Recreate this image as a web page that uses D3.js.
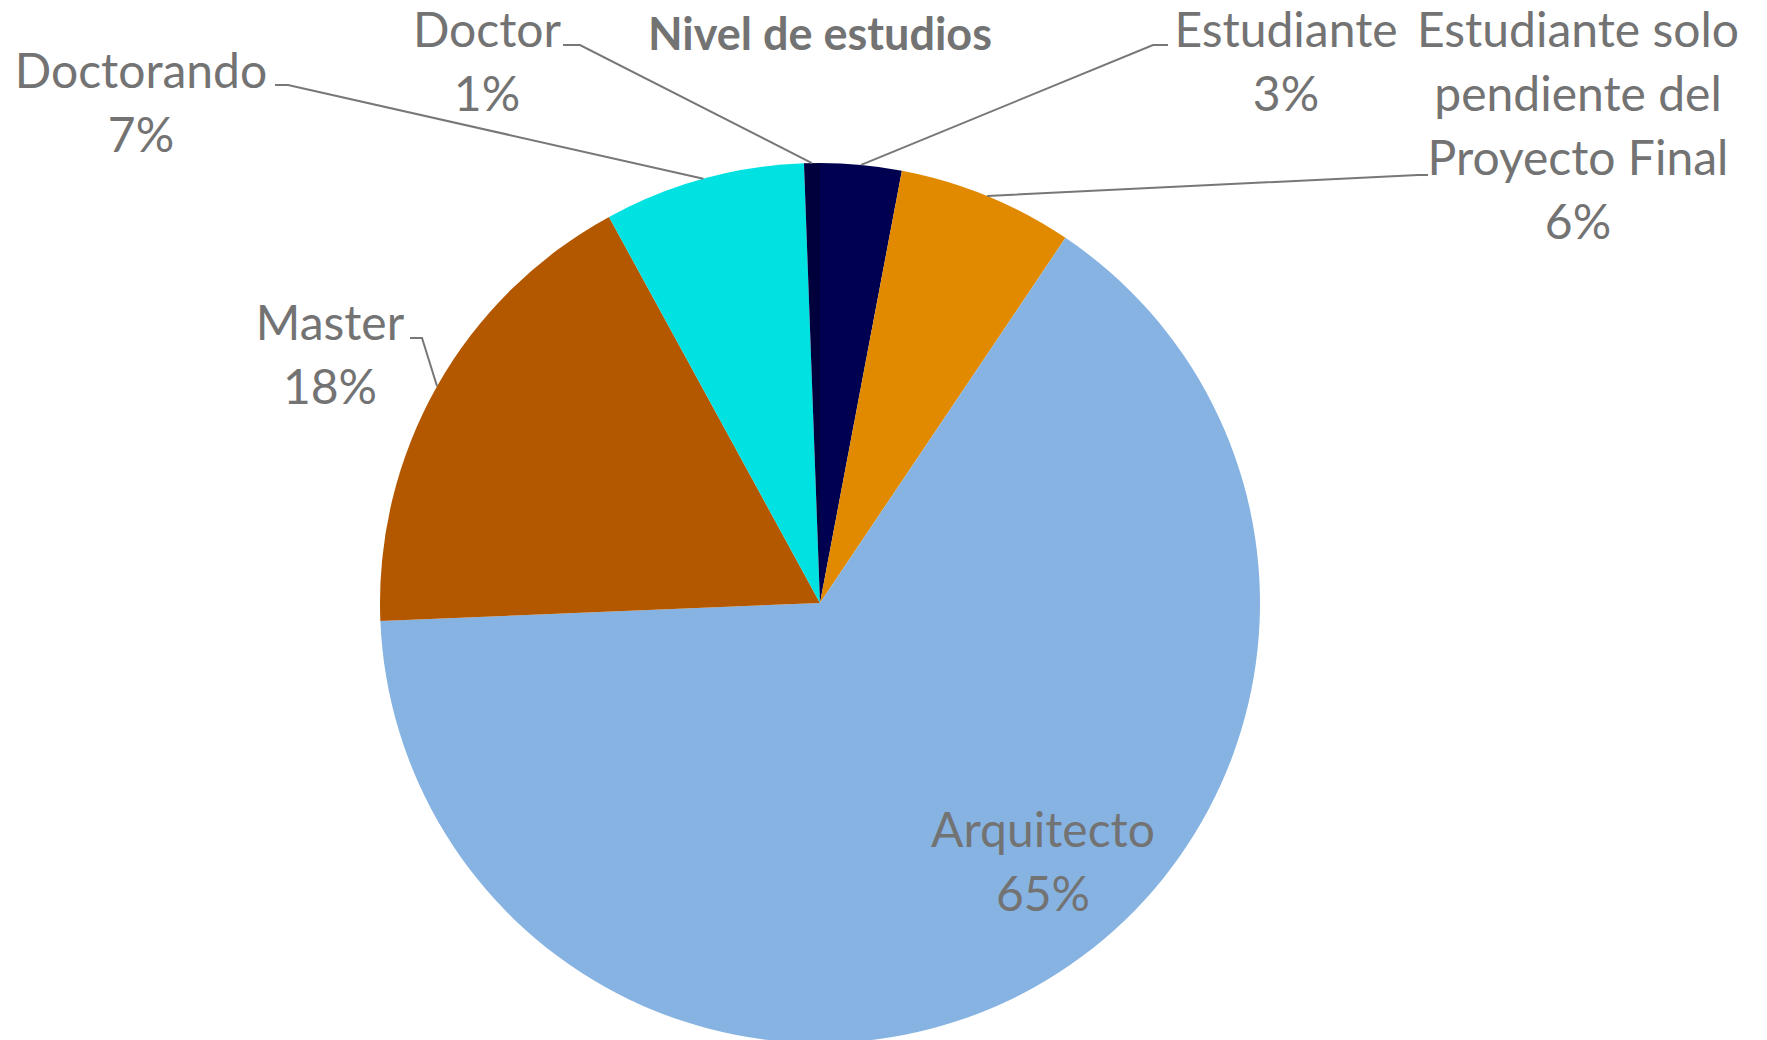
<!DOCTYPE html>
<html>
<head>
<meta charset="utf-8">
<script src="https://cdn.jsdelivr.net/npm/d3@7"></script>
<style>
  body { margin: 0; background: #fff; }
  text { font-family: Lato, "Open Sans", sans-serif; fill: #737373; }
</style>
</head>
<body>
<div id="chart"></div>
<script>
// Nivel de estudios - pie chart
const categories = ["Estudiante", "Estudiante solo pendiente del Proyecto Final", "Arquitecto", "Master", "Doctorando", "Doctor"];
const values = [2.98, 6.44, 64.93, 17.69, 7.38, 0.58];
const labelLines = [["Estudiante"], ["Estudiante solo", "pendiente del", "Proyecto Final"], ["Arquitecto"], ["Master"], ["Doctorando"], ["Doctor"]];
const sliceColors = ["#000050", "#E18A00", "#87B3E3", "#B45800", "#00E1E1", "#00003C"];

const width = 1767;
const height = 1040;
const cx = 820, cy = 603, radius = 440;
const lineHeight = 64;

// label anchor (center x, first baseline) and leader elbow / end
const layout = {
  "Estudiante": { x: 1286, y: 47, elbow: [1153, 45], end: [1168, 45] },
  "Estudiante solo pendiente del Proyecto Final": { x: 1578, y: 47, elbow: [1418, 175], end: [1428, 175] },
  "Arquitecto": { x: 1043, y: 847 },
  "Master": { x: 330, y: 340, elbow: [422, 338], end: [410, 338] },
  "Doctorando": { x: 141, y: 88, elbow: [288, 85], end: [275, 85] },
  "Doctor": { x: 487, y: 47, elbow: [580, 45], end: [563, 45] }
};

const color = d3.scaleOrdinal(categories, sliceColors);
const total = d3.sum(values);
const pct = d3.format(".0%");

const svg = d3.select("#chart")
  .append("svg")
  .attr("width", width)
  .attr("height", height);

const data = categories.map((c, i) => ({ name: c, value: values[i], lines: labelLines[i] }));

const pie = d3.pie().sort(null).value(d => d.value);
const arc = d3.arc().innerRadius(0).outerRadius(radius);
const edgeArc = d3.arc().innerRadius(radius).outerRadius(radius);

const arcs = pie(data);

const g = svg.append("g").attr("transform", `translate(${cx},${cy})`);

g.selectAll("path.slice")
  .data(arcs)
  .join("path")
  .attr("class", "slice")
  .attr("d", arc)
  .attr("fill", d => color(d.data.name));

// leader lines
svg.selectAll("polyline.leader")
  .data(arcs.filter(d => layout[d.data.name].elbow))
  .join("polyline")
  .attr("class", "leader")
  .attr("fill", "none")
  .attr("stroke", "#777")
  .attr("stroke-width", 2)
  .attr("points", d => {
    const c = edgeArc.centroid(d);
    const l = layout[d.data.name];
    return [[cx + c[0], cy + c[1]], l.elbow, l.end].map(p => p.join(",")).join(" ");
  });

// labels
const labels = svg.selectAll("text.label")
  .data(arcs)
  .join("text")
  .attr("class", "label")
  .attr("text-anchor", "middle")
  .style("font-size", "48px");

labels.selectAll("tspan")
  .data(d => d.data.lines.concat([pct(d.data.value / total)]).map((t, i) => ({ t, i, l: layout[d.data.name] })))
  .join("tspan")
  .attr("x", d => d.l.x)
  .attr("y", d => d.l.y + d.i * lineHeight)
  .text(d => d.t);

// title
svg.append("text")
  .attr("x", cx)
  .attr("y", 50)
  .attr("text-anchor", "middle")
  .style("font-size", "45px")
  .style("font-weight", "bold")
  .text("Nivel de estudios");
</script>
</body>
</html>
